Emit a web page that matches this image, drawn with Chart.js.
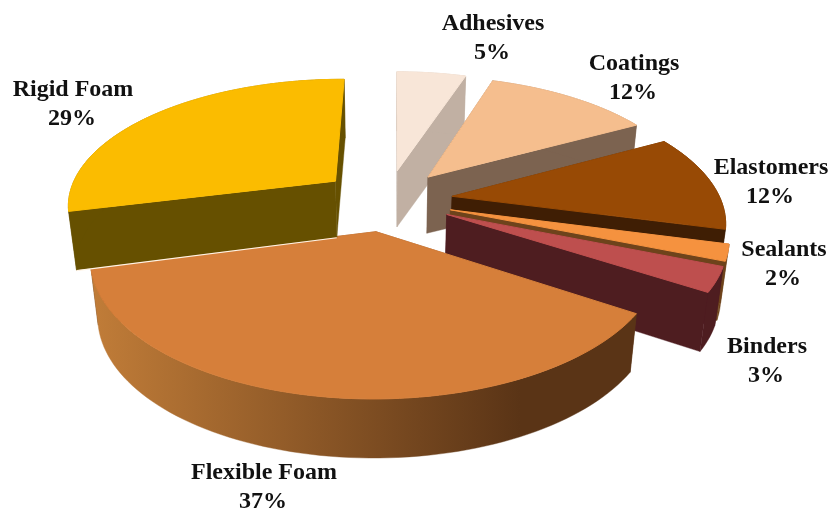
<!DOCTYPE html>
<html>
<head>
<meta charset="utf-8">
<title>Polyurethane end uses</title>
<script src="https://cdn.jsdelivr.net/npm/chart.js@4/dist/chart.umd.min.js"></script>
<style>
  html, body { margin: 0; padding: 0; background: #fff; }
  #box { width: 830px; height: 508px; }
</style>
</head>
<body>
<div id="box"><canvas id="pieChart"></canvas></div>
<script>
// -------- DATA ---------------
const categories = ["Adhesives", "Coatings", "Elastomers", "Sealants", "Binders", "Flexible Foam", "Rigid Foam"];
const shares = [5, 12, 12, 2, 3, 37, 29];

// -------- STYLES ---------------
const faceColors = ["#F8E6D8", "#F5BE8E", "#984A05", "#F5923F", "#BE4F4E", "#D67F3A", "#FBBC00"];
const wallColors = ["#C1B0A3", "#7C6350", "#3F1E04", "#6E431B", "#4E1D20", "#5A3416", "#665000"];
const explodes = [0.245, 0.245, 0.245, 0.245, 0.245, 0.245, 0.25];
// painter's order, back slices first (rigid foam sits over the big slice in the picture)
const drawOrder = [0, 1, 2, 3, 4, 5, 6];
// where each label's first line is centred
const labelSpots = [[493, 24], [634, 64], [771, 168], [784, 250], [767, 347], [264, 473], [73, 90]];

// fake 3D view of the flat pie, all lengths relative to the arc radius
const view = { wide: 1.3435, high: 0.628, tilt: 0.174, depth: 56, flare: 2, shrink: 0.975 };

function project(arc, px, py, z) {
    const r = arc.outerRadius;
    const d = 1 - view.tilt * py;
    let x = view.wide * r * px / d;
    let y = view.high * r * py / d;
    if (z) {
        x *= view.shrink;
        y += view.depth + view.flare * (px * px + py * py);
    }
    return [arc.x + x, arc.y + y];
}

function polygon(ctx, pts, fill, edge) {
    ctx.beginPath();
    pts.forEach((p, i) => i ? ctx.lineTo(p[0], p[1]) : ctx.moveTo(p[0], p[1]));
    ctx.closePath();
    ctx.fillStyle = fill;
    ctx.fill();
    ctx.strokeStyle = fill;
    ctx.lineWidth = edge;
    ctx.stroke();
}

function drawSlice(ctx, arc, i) {
    const mid = (arc.startAngle + arc.endAngle) / 2;
    const ox = explodes[i] * Math.cos(mid);
    const oy = explodes[i] * Math.sin(mid);
    const steps = Math.max(2, Math.ceil((arc.endAngle - arc.startAngle) / 0.03));

    let rim = [];
    for (let s = 0; s <= steps; s++) {
        const a = arc.startAngle + (arc.endAngle - arc.startAngle) * s / steps;
        rim.push([ox + Math.cos(a), oy + Math.sin(a)]);
    }
    const top = rim.map(p => project(arc, p[0], p[1], 0));
    const bottom = rim.map(p => project(arc, p[0], p[1], 1));
    const apexTop = project(arc, ox, oy, 0);
    const apexBottom = project(arc, ox, oy, 1);

    // cut faces
    polygon(ctx, [apexTop, top[0], bottom[0], apexBottom], wallColors[i], 0.4);
    polygon(ctx, [apexTop, top[steps], bottom[steps], apexBottom], wallColors[i], 0.4);

    // thin light line under the rigid foam wall, where it lies over the big slice
    if (categories[i] === "Rigid Foam") {
        ctx.beginPath();
        ctx.moveTo(bottom[steps * 0][0], bottom[0][1] + 0.5);
        ctx.lineTo(apexBottom[0], apexBottom[1] + 0.5);
        ctx.strokeStyle = "#FFF4E6";
        ctx.lineWidth = 1.2;
        ctx.stroke();
    }

    // curved wall, the big slice fades from light to dark
    let wallFill = wallColors[i];
    if (categories[i] === "Flexible Foam") {
        wallFill = ctx.createLinearGradient(95, 0, 520, 0);
        wallFill.addColorStop(0, "#C07C38");
        wallFill.addColorStop(1, wallColors[i]);
    }
    polygon(ctx, top.concat(bottom.slice().reverse()), wallFill, 0.4);

    polygon(ctx, [apexTop].concat(top), arc.options.backgroundColor, 1);
}

const pie3d = {
    id: "pie3d",
    beforeDatasetDraw(chart, args) {
        const ctx = chart.ctx;
        const arcs = chart.getDatasetMeta(args.index).data;
        drawOrder.forEach(i => drawSlice(ctx, arcs[i], i));
        return false;
    },
    afterDraw(chart) {
        const ctx = chart.ctx;
        ctx.save();
        ctx.fillStyle = "#111";
        ctx.textAlign = "center";
        ctx.textBaseline = "middle";
        ctx.font = "bold 24px 'Liberation Serif'";
        categories.forEach((name, i) => {
            const [x, y] = labelSpots[i];
            ctx.fillText(name, x, y);
            ctx.fillText(shares[i] + "%", x - 1, y + 28.5);
        });
        ctx.restore();
    }
};

new Chart(document.getElementById("pieChart"), {
    type: "pie",
    data: {
        labels: categories,
        datasets: [{
            data: shares,
            backgroundColor: faceColors,
            borderWidth: 0
        }]
    },
    options: {
        responsive: true,
        maintainAspectRatio: false,
        animation: false,
        rotation: 0.3,
        layout: { padding: { right: 56, bottom: 108 } },
        plugins: {
            legend: { display: false },
            tooltip: { enabled: false }
        }
    },
    plugins: [pie3d]
});
</script>
</body>
</html>
